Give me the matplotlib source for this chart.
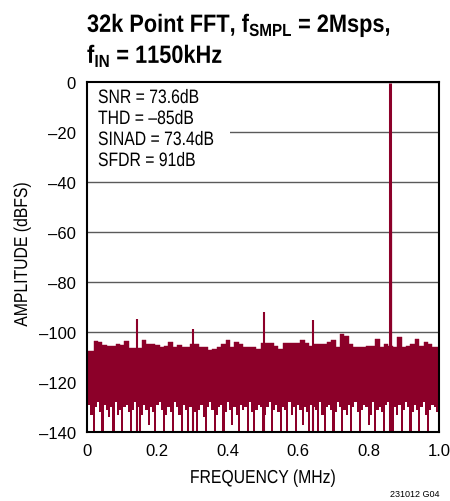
import numpy as np
import matplotlib
matplotlib.use("Agg")
import matplotlib.pyplot as plt
from matplotlib.patches import Rectangle, PathPatch
from matplotlib.textpath import TextPath
from matplotlib.font_manager import FontProperties
from matplotlib.transforms import Affine2D

plt.rcParams['font.family'] = ['Liberation Sans', 'DejaVu Sans']
plt.rcParams['mathtext.fontset'] = 'custom'
plt.rcParams['mathtext.rm'] = 'Liberation Sans:bold'
plt.rcParams['mathtext.bf'] = 'Liberation Sans:bold'

# Noise floor, upper edge (dBFS), one value every 0.0125 MHz from 0 to 1.0
noise_top = [
    -107.5, -107.5, -103.5, -104.0, -105.2, -105.7, -105.5, -104.8, -105.2, -103.5,
    -106.5, -106.5, -106.5, -103.0, -104.8, -104.8, -105.2, -106.1, -105.5, -104.1,
    -106.1, -105.2, -106.1, -106.1, -104.8, -104.8, -106.1, -106.1, -107.1, -106.8,
    -106.1, -104.8, -103.3, -106.1, -104.1, -104.8, -106.1, -106.1, -106.1, -106.8,
    -104.5, -104.3, -104.5, -105.5, -106.8, -104.4, -104.4, -104.4, -104.4, -103.2,
    -104.4, -105.5, -104.8, -104.8, -104.8, -104.1, -103.1, -106.1, -100.8, -101.5,
    -104.8, -106.1, -106.1, -106.1, -105.5, -105.5, -102.8, -106.1, -104.8, -105.5,
    -106.1, -101.8, -106.1, -105.5, -104.8, -102.8, -105.5, -104.1, -104.8, -106.1,
    -106.1,
]

# Noise floor, lower edge (dBFS), one value every 0.00625 MHz (-140 = reaches axis)
noise_bottom = [
    -131, -129, -133, -140, -130, -128, -132, -140, -129, -131, -134, -130, -140, -128, -133, -131, -140, -130, -129, -132,
    -140, -131, -128, -130, -140, -133, -129, -131, -137, -130, -132, -140, -129, -128, -131, -140, -133, -130, -132, -140,
    -128, -130, -133, -140, -129, -131, -140, -130, -128, -132, -140, -131, -129, -134, -140, -130, -128, -131, -140, -133,
    -130, -129, -140, -132, -128, -131, -137, -130, -133, -140, -129, -131, -130, -140, -128, -132, -140, -131, -129, -130,
    -140, -133, -130, -128, -140, -131, -129, -132, -140, -130, -131, -140, -128, -133, -130, -140, -129, -131, -137, -130,
    -132, -140, -129, -130, -131, -140, -128, -133, -140, -130, -129, -131, -140, -132, -128, -130, -140, -131, -133, -129,
    -140, -130, -128, -132, -140, -131, -129, -130, -137, -133, -128, -140, -131, -130, -132, -140, -129, -128, -131, -140,
    -130, -133, -129, -140, -131, -128, -130, -140, -132, -129, -131, -140, -130, -128, -133, -140, -131, -129, -130, -132,
    -131,
]

# Spurs and the fundamental (MHz, dBFS)
spur_freq = [0.142, 0.300, 0.502, 0.643]
spur_level = [-94.8, -98.6, -91.9, -95.0]
fund_freq = [0.862, 0.8635]
fund_level = [-0.5, -47.0]

stats = ["SNR = 73.6dB", "THD = \u201385dB", "SINAD = 73.4dB", "SFDR = 91dB"]
yticks = [0, -20, -40, -60, -80, -100, -120, -140]
xticks = [0, 0.2, 0.4, 0.6, 0.8, 1.0]

RED = '#8c0029'
W, H = 450, 502


def narrow_text(fig, x, y, s, size, sx, weight='normal', ha='left', rotation=0):
    """Draw horizontally squeezed text; x, y are pixels from the top-left, y on the baseline."""
    fp = FontProperties(family='Liberation Sans', weight=weight)
    path = TextPath((0, 0), s, prop=fp, size=size)
    ext = path.get_extents()
    dx = {'left': 0, 'center': -(ext.x0 + ext.x1) / 2, 'right': -ext.x1}[ha]
    k = fig.dpi / 72
    tr = (Affine2D().translate(dx, 0).scale(sx * k, k)
          .rotate_deg(rotation).translate(x, H - y))
    fig.add_artist(PathPatch(path, transform=tr, facecolor='black',
                             edgecolor='none'))


fig = plt.figure(figsize=(W / 100, H / 100), dpi=100)
ax = fig.add_axes([87/W, 69/H, 352/W, 350/H])

f_top = np.linspace(0, 1, len(noise_top))
f_bot = np.linspace(0, 1, len(noise_bottom))

# Noise band, then white gaps from the bottom
ax.fill_between(f_top, -140, noise_top, step='mid', color=RED, lw=0.3, zorder=2)
ax.fill_between(f_bot, -140, noise_bottom, step='mid', color='white', lw=0, zorder=2.1)

ax.vlines(spur_freq, -140, spur_level, color=RED, lw=1.5, zorder=3)
ax.vlines(fund_freq[0], -140, fund_level[0], color=RED, lw=2.2, zorder=3)
ax.vlines(fund_freq[1], -140, fund_level[1], color=RED, lw=1.6, zorder=3)

ax.set_xlim(0, 1)
ax.set_ylim(-140, 0)
ax.set_yticks(yticks)
ax.set_yticklabels([str(t).replace('-', '\u2013') for t in yticks])
ax.set_xticks(xticks)
ax.set_xticklabels(['0', '0.2', '0.4', '0.6', '0.8', '1.0'])
ax.tick_params(length=0, labelsize=12, pad=8)
ax.yaxis.grid(True, color='#5a5a5a', lw=1)
ax.set_axisbelow(True)
for s in ax.spines.values():
    s.set_linewidth(1.5)
    s.set_zorder(5)

# White box behind the stats text
ax.add_patch(Rectangle((0, 0.725), 0.405, 0.275, transform=ax.transAxes,
                       facecolor='white', edgecolor='none', zorder=1))
for i, s in enumerate(stats):
    narrow_text(fig, 98, 104 + i * 21, s, 14, 0.81)

# Axis labels and title in a condensed look
narrow_text(fig, 263, 484, "FREQUENCY (MHz)", 13.5, 0.84, ha='center')
narrow_text(fig, 27, 256, "AMPLITUDE (dBFS)", 13.5, 0.84, ha='center', rotation=90)
narrow_text(fig, 87, 33, r'32k Point FFT, f$_{\mathbf{SMPL}}$ = 2Msps,', 18, 0.87,
            weight='bold')
narrow_text(fig, 87, 64, r'f$_{\mathbf{IN}}$ = 1150kHz', 18, 0.87, weight='bold')

fig.text(440/W, 1 - 497/H, "231012 G04", fontsize=6.5, ha='right', va='baseline')

fig.savefig("out.png", dpi=100)
